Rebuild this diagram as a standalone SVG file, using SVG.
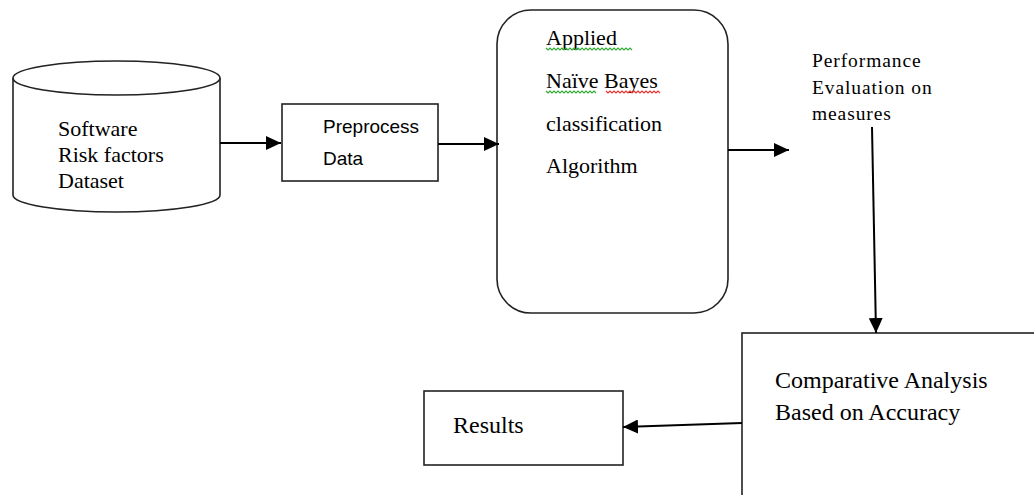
<svg xmlns="http://www.w3.org/2000/svg" width="1034" height="495" viewBox="0 0 1034 495">
<defs>
<style>
.shape{fill:#fff;stroke:#222;stroke-width:1.6}
.serif{font-family:"Liberation Serif","Times New Roman",serif;fill:#000}
.sans{font-family:"Liberation Sans",Arial,sans-serif;fill:#000}
.conn{stroke:#000;stroke-width:2;fill:none}
.sq{fill:none;stroke-width:1.2}
</style>
<marker id="ah" viewBox="0 0 15 14" refX="15" refY="7" markerWidth="15" markerHeight="14" markerUnits="userSpaceOnUse" orient="auto">
<path d="M0,0 L15,7 L0,14 Z" fill="#000"/>
</marker>
</defs>
<rect width="1034" height="495" fill="#fff"/>

<g id="dataset">
<path class="shape" d="M13,78 L13,195 A103.5,17 0 0 0 220,195 L220,78"/>
<ellipse class="shape" cx="116.5" cy="78" rx="103.5" ry="17"/>
<text class="serif" font-size="22"><tspan x="58" y="136">Software</tspan><tspan x="58" y="162">Risk factors</tspan><tspan x="58" y="188">Dataset</tspan></text>
</g>

<g id="preprocess">
<rect class="shape" x="282" y="104" width="156" height="77"/>
<text class="sans" font-size="19"><tspan x="323" y="133">Preprocess</tspan><tspan x="323" y="165">Data</tspan></text>
</g>

<g id="naive-bayes">
<rect class="shape" x="497" y="10" width="231" height="303" rx="34" ry="34"/>
<text class="serif" font-size="22"><tspan x="546" y="45">Applied</tspan><tspan x="546" y="88">Naïve Bayes</tspan><tspan x="546" y="131">classification</tspan><tspan x="546" y="173">Algorithm</tspan></text>
<path class="sq" stroke="#3a3" d="M546,48 l2,2 l2,-2 l2,2 l2,-2 l2,2 l2,-2 l2,2 l2,-2 l2,2 l2,-2 l2,2 l2,-2 l2,2 l2,-2 l2,2 l2,-2 l2,2 l2,-2 l2,2 l2,-2 l2,2 l2,-2 l2,2 l2,-2 l2,2 l2,-2 l2,2 l2,-2 l2,2 l2,-2 l2,2 l2,-2 l2,2 l2,-2 l2,2 l2,-2 l2,2 l2,-2 l2,2 l2,-2 l2,2 l2,-2 l2,2"/>
<path class="sq" stroke="#3a3" d="M546,91 l2,2 l2,-2 l2,2 l2,-2 l2,2 l2,-2 l2,2 l2,-2 l2,2 l2,-2 l2,2 l2,-2 l2,2 l2,-2 l2,2 l2,-2 l2,2 l2,-2 l2,2 l2,-2 l2,2 l2,-2 l2,2 l2,-2 l2,2"/>
<path class="sq" stroke="#e33" d="M606,91 l2,2 l2,-2 l2,2 l2,-2 l2,2 l2,-2 l2,2 l2,-2 l2,2 l2,-2 l2,2 l2,-2 l2,2 l2,-2 l2,2 l2,-2 l2,2 l2,-2 l2,2 l2,-2 l2,2 l2,-2 l2,2 l2,-2 l2,2 l2,-2 l2,2"/>
</g>

<g id="performance">
<text class="serif" font-size="19.5" letter-spacing="0.9"><tspan x="812" y="67">Performance</tspan><tspan x="812" y="94">Evaluation on</tspan><tspan x="812" y="120">measures</tspan></text>
</g>

<g id="comparative">
<rect class="shape" x="742" y="333" width="320" height="200"/>
<text class="serif" font-size="24"><tspan x="775" y="388">Comparative Analysis</tspan><tspan x="775" y="420">Based on Accuracy</tspan></text>
</g>

<g id="results">
<rect class="shape" x="424" y="391" width="199" height="74"/>
<text class="serif" font-size="24" x="453" y="433">Results</text>
</g>

<g id="connectors">
<line class="conn" x1="220" y1="143" x2="281" y2="143" marker-end="url(#ah)"/>
<line class="conn" x1="438" y1="144" x2="499" y2="144" marker-end="url(#ah)"/>
<line class="conn" x1="728" y1="150" x2="789" y2="150" marker-end="url(#ah)"/>
<line class="conn" x1="872" y1="127" x2="876" y2="333" marker-end="url(#ah)"/>
<line class="conn" x1="742" y1="423" x2="623" y2="427" marker-end="url(#ah)"/>
</g>
</svg>
